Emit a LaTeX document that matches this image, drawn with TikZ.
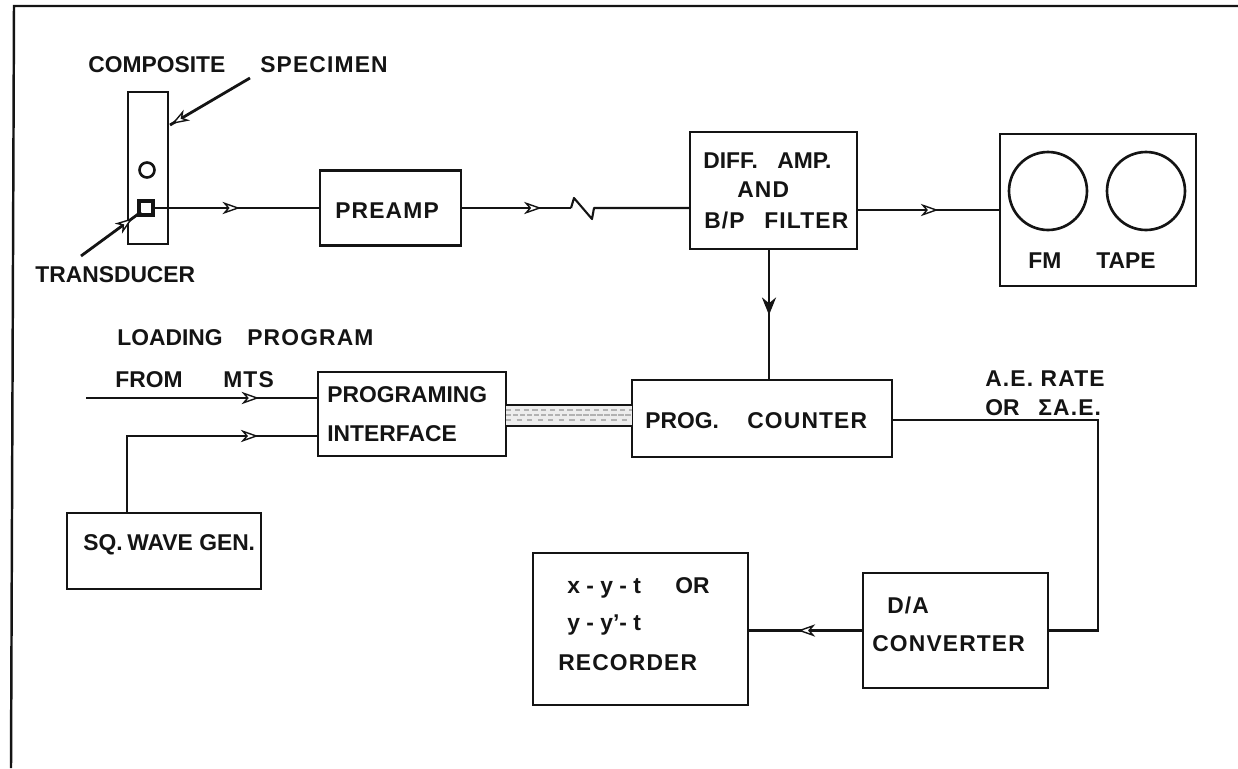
\documentclass[tikz,border=0pt]{standalone}
\usepackage{fontspec}
\setmainfont{Liberation Sans}
\usetikzlibrary{arrows.meta,decorations.markings}
\definecolor{cInk}{HTML}{141414}
\tikzset{
  >=Stealth,
  box/.style ={draw=cInk,line width=1.3pt,inner sep=0pt},
  lbl/.style ={font=\fontsize{13}{16}\selectfont\bfseries,text=cInk,inner sep=0pt,anchor=west,text height=9.3pt,text depth=0pt},
  wlbl/.style={lbl,font=\fontsize{13}{16}\selectfont\bfseries\addfontfeature{LetterSpace=5}},
  reel/.style={draw=cInk,line width=1.5pt,circle,inner sep=0pt},
  ar/.style  ={draw=cInk,line width=1.2pt},
  lead/.style={draw=cInk,line width=1.6pt},
  flow/.style={postaction={decorate},decoration={markings,
      mark=at position #1 with {\arrow{Stealth[open,fill=white,length=10pt,width=7pt,inset=3pt,line width=0.8pt]}}}},
  solid tip/.style={postaction={decorate},decoration={markings,
      mark=at position #1 with {\arrow{Stealth[length=10pt,width=8pt]}}}},
}
\begin{document}
\begin{tikzpicture}[x=0.02cm,y=-0.02cm]
\useasboundingbox (0,0) rectangle (1238,768);
% outer frame
\draw[ar,line width=1.4pt] (1238,6) -- (14,6) -- (11,768);
% specimen
\node[box,minimum width=0.8cm,minimum height=3.04cm] (spec) at (148,168) {};
\node[reel,minimum size=0.3cm] (hole) at (147,170) {};
\node[draw=cInk,line width=1.8pt,minimum size=0.28cm,inner sep=0pt] (trans) at (146,208) {};
\node[lbl] (lcomp) at (88,64) {COMPOSITE};
\node[wlbl] (lspec) at (260,64) {SPECIMEN};
\node[lbl] (ltrans) at (35,274) {TRANSDUCER};
\coordinate (specend) at (250,78);
\coordinate (specpt) at (170,125);
\coordinate (transend) at (81,256);
\coordinate (transpt) at (141,212);
\draw[lead,flow=0.98] (specend) -- (specpt);
\draw[lead,flow=0.86] (transend) -- (transpt);
% top row
\node[box,minimum width=2.82cm,minimum height=1.5cm] (preamp) at (390.5,208) {};
\node[wlbl] (lpre) at (335,210) {PREAMP};
\node[box,minimum width=3.34cm,minimum height=2.34cm] (diff) at (773.5,190.5) {};
\node[lbl] (ldiffa) at (703,160) {DIFF.};
\node[lbl] (ldiffd) at (777,160) {AMP.};
\node[wlbl] (ldiffb) at (737,189) {AND};
\node[wlbl] (ldiffc) at (704,220) {B/P};
\node[wlbl] (ldiffe) at (764,220) {FILTER};
\node[box,minimum width=3.92cm,minimum height=3.04cm] (tape) at (1098,210) {};
\node[reel,minimum size=1.56cm] (reela) at (1048,191) {};
\node[reel,minimum size=1.56cm] (reelb) at (1146,191) {};
\node[lbl] (lfm) at (1028,260) {FM};
\node[lbl] (ltape) at (1096,260) {TAPE};
\draw[ar,flow=0.52] (trans.east) -- (preamp.west);
\coordinate (kinka) at (571,208);
\coordinate (kinkb) at (574,198);
\coordinate (kinkc) at (592,219);
\coordinate (kinkd) at (594,208);
\draw[ar,flow=0.73] (preamp.east) -- (kinka);
\draw[ar,line join=round] (kinka) -- (kinkb) -- (kinkc) -- (kinkd) -- (kinkd -| diff.west);
\coordinate (tapein) at (diff.east |- tape.west);
\draw[ar,flow=0.57] (tapein) -- (tapein -| tape.west);
% middle row
\node[box,minimum width=3.76cm,minimum height=1.68cm] (iface) at (412,414) {};
\node[lbl] (liface) at (327,394) {PROGRAMING};
\node[lbl] (lifaceb) at (327,433) {INTERFACE};
\node[box,minimum width=5.2cm,minimum height=1.54cm] (cntr) at (762,418.5) {};
\node[lbl] (lprog) at (645,420) {PROG.};
\node[wlbl] (lcount) at (747,420) {COUNTER};
\coordinate (tap) at (769,380);
\draw[ar,line width=1.5pt,solid tip=0.5] (tap |- diff.south) -- (tap);
% bus between interface and counter
\coordinate (busa) at (506,405);
\coordinate (busb) at (632,426);
\fill[gray!14] (busa) rectangle (busb);
\draw[ar,line width=0.8pt] (busa) -- (busa -| busb);
\draw[ar,line width=0.8pt] (busb -| busa) -- (busb);
\foreach \y/\gap in {410/2pt,415/1pt,420/3pt}
  \draw[draw=gray!60,line width=0.6pt,dash pattern=on 3pt off \gap] (506,\y) -- (632,\y);
% program inputs
\node[lbl] (lload) at (117,337) {LOADING};
\node[wlbl] (lprogr) at (247,337) {PROGRAM};
\node[lbl] (lfrom) at (115,379) {FROM};
\node[wlbl] (lmts) at (223,379) {MTS};
\coordinate (mts) at (86,398);
\draw[ar,flow=0.75] (mts) -- (mts -| iface.west);
\node[box,minimum width=3.88cm,minimum height=1.52cm] (sqw) at (164,551) {};
\node[lbl] (lsqw) at (83,542) {SQ.};
\node[lbl] (lsqwb) at (127,542) {WAVE GEN.};
\coordinate (bend) at (127,436);
\draw[ar,flow=0.78] (bend |- sqw.north) -- (bend) -- (bend -| iface.west);
% lower right
\node[wlbl] (lrate) at (985,378) {A.E. RATE};
\node[lbl] (lor) at (985,407) {OR};
\node[wlbl] (lsum) at (1038,407) {ΣA.E.};
\node[box,minimum width=3.7cm,minimum height=2.3cm] (dac) at (955.5,630.5) {};
\node[wlbl] (ldaca) at (887,605) {D/A};
\node[wlbl] (ldacb) at (872,643) {CONVERTER};
\coordinate (corner) at (1098,420);
\draw[ar] (cntr.east |- corner) -- (corner) -- (corner |- dac.east) -- (dac.east);
\node[box,minimum width=4.3cm,minimum height=3.04cm] (rec) at (640.5,629) {};
\node[lbl] (lreca) at (567,585) {x - y - t};
\node[lbl] (lreco) at (675,585) {OR};
\node[lbl] (lrecb) at (567,622) {y - y'- t};
\node[wlbl] (lrecc) at (558,662) {RECORDER};
\draw[ar,flow=0.57] (dac.west) -- (dac.west -| rec.east);
\end{tikzpicture}
\end{document}
